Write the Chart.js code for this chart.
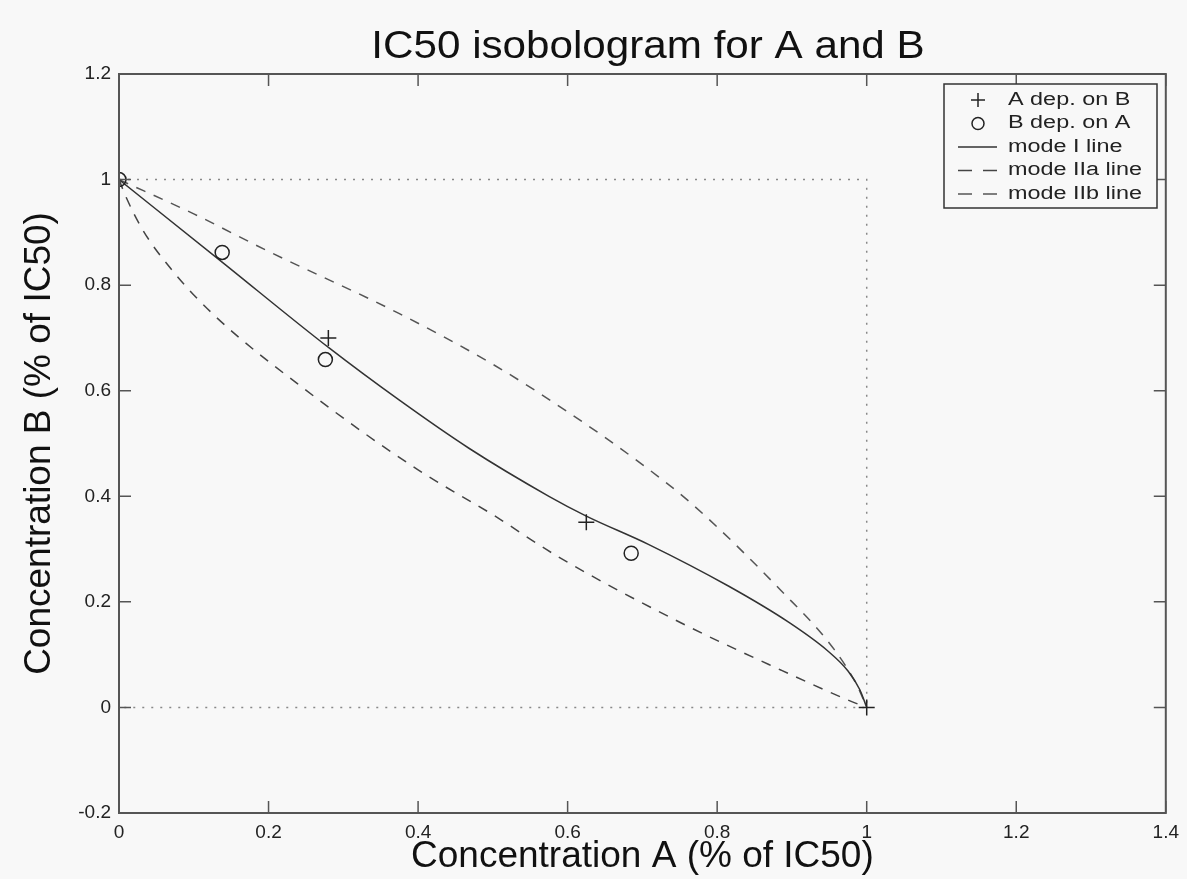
<!DOCTYPE html>
<html>
<head>
<meta charset="utf-8">
<script src="https://cdn.jsdelivr.net/npm/chart.js@4.4.0/dist/chart.umd.min.js"></script>
<style>
    html, body { margin: 0; padding: 0; background: #f8f8f8; }
    #wrap { width: 1187px; height: 879px; }
</style>
</head>
<body>
<div id="wrap"><canvas id="isoChart"></canvas></div>
<script>
// measured points
let aDepOnB = [{ x: 0.28, y: 0.70 }, { x: 0.625, y: 0.351 }, { x: 1.0, y: 0.0 }];
let bDepOnA = [{ x: 0.0, y: 1.0 }, { x: 0.138, y: 0.862 }, { x: 0.276, y: 0.659 }, { x: 0.685, y: 0.292 }];

// model curves
let modeIX = [0, 0.135, 0.281, 0.375, 0.468, 0.575, 0.625, 0.708, 0.815, 0.895, 0.948, 0.975, 0.991, 1.0];
let modeIY = [1, 0.847, 0.681, 0.582, 0.491, 0.400, 0.3625, 0.309, 0.230, 0.162, 0.107, 0.069, 0.033, 0.0];

let modeIIaX = [0, 0.01, 0.032, 0.07, 0.125, 0.25, 0.4, 0.5, 0.588, 0.752, 0.885, 0.975, 1.0];
let modeIIaY = [1, 0.965, 0.904, 0.83, 0.746, 0.601, 0.45, 0.365, 0.285, 0.16, 0.071, 0.014, 0.0];

let modeIIbX = [0, 0.1, 0.197, 0.375, 0.5, 0.6, 0.7, 0.765, 0.885, 0.957, 0.988, 1.0];
let modeIIbY = [1, 0.935, 0.866, 0.746, 0.65, 0.56, 0.46, 0.387, 0.222, 0.109, 0.039, 0.0];

// dotted reference box
let boxX = [0, 1, 1, 0];
let boxY = [1, 1, 0, 0];

let xTicks = [0, 0.2, 0.4, 0.6, 0.8, 1, 1.2, 1.4];
let yTicks = [-0.2, 0, 0.2, 0.4, 0.6, 0.8, 1, 1.2];

let titleText = "IC50 isobologram for A and B";

function zipXY(xs, ys) {
    return xs.map(function (x, i) { return { x: x, y: ys[i] }; });
}

let fontFamily = "'Liberation Sans', Arial, sans-serif";

// text drawn a little wider, like the scanned figure
function wideText(ctx, text, x, y, stretch) {
    ctx.save();
    ctx.translate(x, y);
    ctx.scale(stretch, 1);
    ctx.fillText(text, 0, 0);
    ctx.restore();
}

// title over the axes box
let axesTitle = {
    id: "axesTitle",
    afterDraw(chart) {
        let ctx = chart.ctx;
        ctx.save();
        ctx.font = "38px " + fontFamily;
        ctx.fillStyle = "#111";
        ctx.textBaseline = "alphabetic";
        ctx.textAlign = "center";
        wideText(ctx, titleText, 648, 58, 1.11);
        ctx.restore();
    }
};

// MATLAB style box and inward ticks
let boxTicks = {
    id: "boxTicks",
    afterDatasetsDraw(chart) {
        let ctx = chart.ctx;
        let area = chart.chartArea;
        let xs = chart.scales.x, ys = chart.scales.y;
        let len = 12;
        ctx.save();
        ctx.strokeStyle = "#555";
        ctx.lineWidth = 2;
        ctx.strokeRect(area.left, area.top, area.right - area.left, area.bottom - area.top);
        ctx.lineWidth = 1.5;
        ctx.beginPath();
        xTicks.forEach(function (v) {
            let px = xs.getPixelForValue(v);
            ctx.moveTo(px, area.bottom); ctx.lineTo(px, area.bottom - len);
            ctx.moveTo(px, area.top); ctx.lineTo(px, area.top + len);
        });
        yTicks.forEach(function (v) {
            let py = ys.getPixelForValue(v);
            ctx.moveTo(area.left, py); ctx.lineTo(area.left + len, py);
            ctx.moveTo(area.right, py); ctx.lineTo(area.right - len, py);
        });
        ctx.stroke();
        ctx.restore();
    }
};

// boxed legend inside the plot, top right
let boxLegend = {
    id: "boxLegend",
    afterDraw(chart) {
        let ctx = chart.ctx;
        let left = 944, top = 84, width = 213, height = 124;
        ctx.save();
        ctx.fillStyle = "#f8f8f8";
        ctx.fillRect(left, top, width, height);
        ctx.strokeStyle = "#333";
        ctx.lineWidth = 1.5;
        ctx.strokeRect(left, top, width, height);
        ctx.font = "18px " + fontFamily;
        ctx.textBaseline = "middle";
        let rows = chart.data.datasets.filter(function (d) { return d.label; });
        rows.forEach(function (d, i) {
            let y = top + 16 + i * 23.5;
            let cx = 978;
            ctx.strokeStyle = d.borderColor;
            ctx.lineWidth = d.borderWidth;
            if (d.showLine === false) {
                ctx.beginPath();
                if (d.pointStyle === "cross") {
                    ctx.moveTo(cx - 7, y); ctx.lineTo(cx + 7, y);
                    ctx.moveTo(cx, y - 7); ctx.lineTo(cx, y + 7);
                } else {
                    ctx.arc(cx, y, 6, 0, Math.PI * 2);
                }
                ctx.stroke();
            } else {
                ctx.setLineDash(d.borderDash ? [14, 11] : []);
                ctx.beginPath();
                ctx.moveTo(958, y); ctx.lineTo(997, y);
                ctx.stroke();
                ctx.setLineDash([]);
            }
            ctx.fillStyle = "#222";
            wideText(ctx, d.label, 1008, y, 1.3);
        });
        ctx.restore();
    }
};

let ctx = document.getElementById("isoChart").getContext("2d");
let isoChart = new Chart(ctx, {
    type: "scatter",
    data: {
        datasets: [{
            label: "A dep. on B",
            data: aDepOnB,
            showLine: false,
            pointStyle: "cross",
            pointRadius: 8,
            borderColor: "#222",
            backgroundColor: "rgba(0,0,0,0)",
            borderWidth: 1.5
        },
        {
            label: "B dep. on A",
            data: bDepOnA,
            showLine: false,
            pointStyle: "circle",
            pointRadius: 7,
            borderColor: "#222",
            backgroundColor: "rgba(0,0,0,0)",
            borderWidth: 1.5
        },
        {
            label: "mode I line",
            data: zipXY(modeIX, modeIY),
            showLine: true,
            pointRadius: 0,
            borderColor: "#333",
            borderWidth: 1.5,
            cubicInterpolationMode: "monotone"
        },
        {
            label: "mode IIa line",
            data: zipXY(modeIIaX, modeIIaY),
            showLine: true,
            pointRadius: 0,
            borderColor: "#444",
            borderWidth: 1.5,
            borderDash: [10, 9],
            cubicInterpolationMode: "monotone"
        },
        {
            label: "mode IIb line",
            data: zipXY(modeIIbX, modeIIbY),
            showLine: true,
            pointRadius: 0,
            borderColor: "#555",
            borderWidth: 1.5,
            borderDash: [10, 9],
            cubicInterpolationMode: "monotone"
        },
        {
            label: "",
            data: zipXY(boxX, boxY),
            showLine: true,
            pointRadius: 0,
            borderColor: "#888",
            borderWidth: 1.5,
            borderDash: [2, 7],
            tension: 0
        }]
    },
    options: {
        responsive: true,
        maintainAspectRatio: false,
        animation: false,
        layout: { padding: { left: 0, right: 18, top: 74, bottom: 0 } },
        plugins: {
            legend: { display: false },
            tooltip: { enabled: false },
            title: { display: false }
        },
        scales: {
            x: {
                type: "linear",
                min: 0,
                max: 1.4,
                afterFit: function (scale) { scale.height = 66; },
                afterBuildTicks: function (scale) { scale.ticks = xTicks.map(function (v) { return { value: v }; }); },
                grid: { display: false, drawTicks: false },
                border: { display: false },
                ticks: {
                    padding: 8,
                    color: "#222",
                    font: { family: fontFamily, size: 19 },
                    maxRotation: 0,
                    callback: function (v) { return String(+v.toFixed(1)); }
                },
                title: {
                    display: true,
                    text: "Concentration A (% of IC50)",
                    color: "#111",
                    font: { family: fontFamily, size: 37, lineHeight: 1.2 },
                    padding: { top: 0, bottom: 0 }
                }
            },
            y: {
                type: "linear",
                min: -0.2,
                max: 1.2,
                afterFit: function (scale) { scale.width = 119; },
                afterBuildTicks: function (scale) { scale.ticks = yTicks.map(function (v) { return { value: v }; }); },
                grid: { display: false, drawTicks: false },
                border: { display: false },
                ticks: {
                    padding: 8,
                    color: "#222",
                    font: { family: fontFamily, size: 19 },
                    callback: function (v) { return String(+v.toFixed(1)); }
                },
                title: {
                    display: true,
                    text: "Concentration B (% of IC50)",
                    color: "#111",
                    font: { family: fontFamily, size: 37, lineHeight: 1.2 },
                    padding: { top: 18, bottom: 0 }
                }
            }
        }
    },
    plugins: [boxTicks, boxLegend, axesTitle]
});
</script>
</body>
</html>
